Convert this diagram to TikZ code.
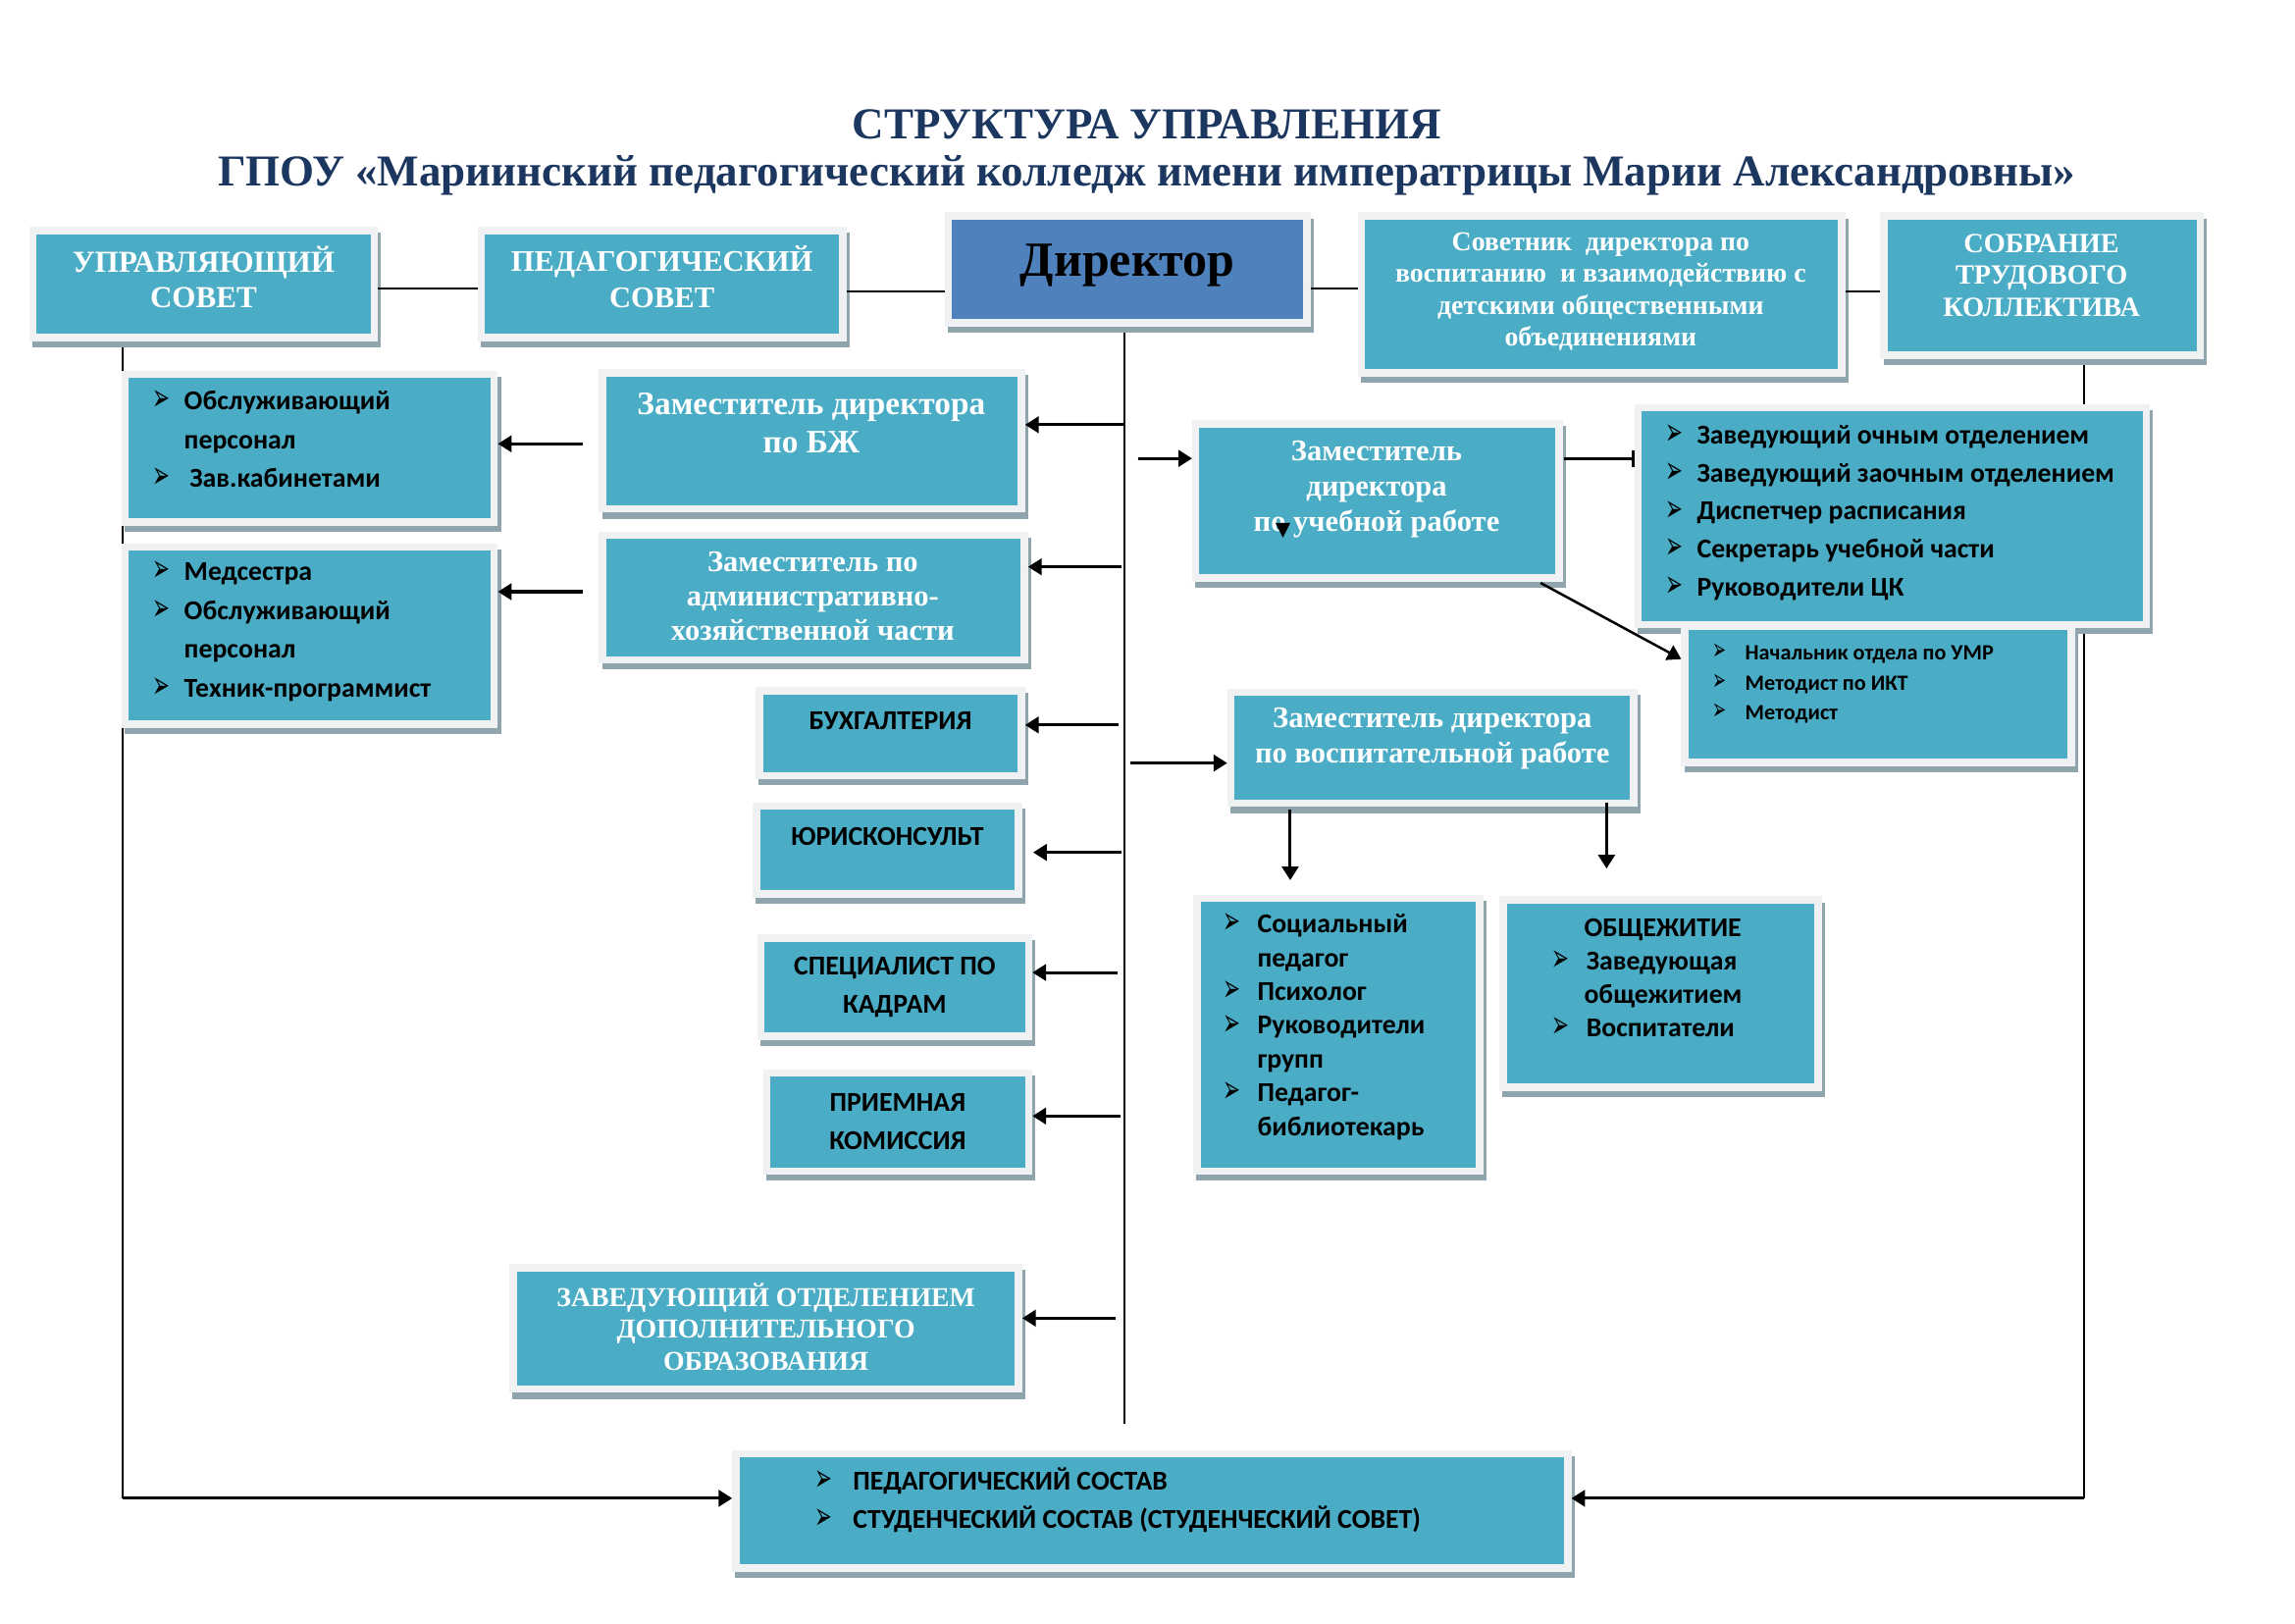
\documentclass[tikz,border=0pt]{standalone}
\usepackage{fontspec}
\usepackage{graphicx}
\setmainfont{Liberation Serif}
\newfontfamily\calfont{Carlito}
\newfontfamily\dvs{DejaVu Sans}
\usetikzlibrary{arrows.meta}
\definecolor{tealbox}{HTML}{4BACC6}
\definecolor{dirbox}{HTML}{4F81BD}
\definecolor{framec}{HTML}{EFF1F2}
\definecolor{shadowc}{HTML}{8FA4AC}
\definecolor{titlec}{HTML}{1B365F}
\newcommand\blt[1]{\makebox[#1][l]{\dvs\mdseries\fontsize{14}{14}\selectfont\raisebox{-0.4pt}{\scalebox{0.55}[1]{➢}}}}
\newcommand\bltsm[1]{\makebox[#1][l]{\dvs\mdseries\fontsize{11}{11}\selectfont\scalebox{0.55}[1]{➢}}}
\newcommand\bx[6]{%
  \node[#6, minimum width={(#4-#2+5)*0.5373pt}, minimum height={(#5-#3+5)*0.5373pt}] (#1) at ({(#2+#4)/2},{(#3+#5)/2}) {};}
\tikzset{
  boxbase/.style={draw=framec, line width=2.7pt, inner sep=0pt, rectangle,
    preaction={draw=shadowc, fill=shadowc, line width=2.7pt, transform canvas={shift={(1.1pt,-2.2pt)}}}},
  tbox/.style={boxbase, fill=tealbox},
  dbox/.style={boxbase, fill=dirbox},
  wt/.style={text=white, align=center, inner sep=0pt, font=\bfseries\fontsize{11.2}{13}\selectfont},
  ct/.style={text=black, align=left, inner sep=0pt, font=\calfont\bfseries\fontsize{10}{14.3}\selectfont},
  cc/.style={text=black, align=center, inner sep=0pt, font=\calfont\bfseries\fontsize{10}{14}\selectfont},
  ln/.style={line width=0.8pt},
  arr/.style={line width=1.1pt, -{Triangle[length=5pt,width=6pt]}},
  titlestyle/.style={text=titlec, inner sep=0pt, font=\bfseries\fontsize{16.2}{19}\selectfont}
}
\begin{document}
\begin{tikzpicture}[x=0.5373pt,y=-0.5373pt]
\useasboundingbox (0,0) rectangle (1567.1,1108.3);
\node[titlestyle] (t1) at (783,85) {СТРУКТУРА УПРАВЛЕНИЯ};
\node[titlestyle] (t2) at (783,120) {ГПОУ «Мариинский педагогический колледж имени императрицы Марии Александровны»};

% helper coordinates
\coordinate (ucl) at (84,237);
\coordinate (ucb) at (84,1023);
\coordinate (sobl) at (1423,247);
\coordinate (sobb) at (1423,1023);
\coordinate (mtop) at (768,224);
\coordinate (mbot) at (768,972);

% lines behind boxes
\draw[ln] (ucl) -- (ucb);
\draw[ln] (sobl) -- (sobb);
\draw[ln] (mtop) -- (mbot);

% boxes
\bx{uc}{25}{160}{253}{228}{tbox}
\bx{pc}{331}{160}{573}{228}{tbox}
\bx{dir}{650}{150}{890}{218}{dbox}
\bx{sov}{932}{150}{1255}{252}{tbox}
\bx{sob}{1289}{150}{1500}{240}{tbox}
\bx{obs}{88}{258}{335}{354}{tbox}
\bx{bzh}{414}{257}{695}{345}{tbox}
\bx{med}{88}{376}{335}{492}{tbox}
\bx{ahch}{414}{368}{697}{448}{tbox}
\bx{buh}{521}{474}{695}{527}{tbox}
\bx{yur}{519}{553}{693}{608}{tbox}
\bx{kad}{522}{643}{700}{705}{tbox}
\bx{prm}{526}{735}{700}{797}{tbox}
\bx{dop}{353}{868}{693}{946}{tbox}
\bx{sost}{505}{995}{1068}{1068}{tbox}
\bx{ucheb}{819}{292}{1062}{392}{tbox}
\bx{zav}{1121}{281}{1463}{424}{tbox}
\bx{umr}{1153}{430}{1412}{518}{tbox}
\bx{vosp}{843}{475}{1113}{546}{tbox}
\bx{soc}{820}{616}{1008}{797}{tbox}
\bx{obsh}{1029}{617}{1239}{740}{tbox}

% texts
\node[wt] (uc-t) at (139,189) {УПРАВЛЯЮЩИЙ\\СОВЕТ};
\node[wt, font=\bfseries\fontsize{11}{13}\selectfont] (pc-t) at (452,189) {ПЕДАГОГИЧЕСКИЙ\\СОВЕТ};
\node[text=black, inner sep=0pt, font=\bfseries\fontsize{18}{22}\selectfont] (dir-t) at (770,181) {Директор};
\node[wt, font=\bfseries\fontsize{10}{11.7}\selectfont] (sov-t) at (1093,199) {Советник\ \ директора по\\воспитанию\ \ и взаимодействию с\\детскими общественными\\объединениями};
\node[wt, font=\bfseries\fontsize{10.2}{11.6}\selectfont] (sob-t) at (1394,188) {СОБРАНИЕ\\ТРУДОВОГО\\КОЛЛЕКТИВА};
\node[ct, anchor=west] (obs-t) at (104,300) {\blt{11.5pt}Обслуживающий\\\hspace*{11.5pt}персонал\\\blt{13.5pt}Зав.кабинетами};
\node[wt, font=\bfseries\fontsize{12}{14}\selectfont] (bzh-t) at (554,289) {Заместитель директора\\по БЖ};
\node[ct, anchor=west] (med-t) at (104,431) {\blt{11.5pt}Медсестра\\\blt{11.5pt}Обслуживающий\\\hspace*{11.5pt}персонал\\\blt{11.5pt}Техник-программист};
\node[wt, font=\bfseries\fontsize{11}{12.7}\selectfont] (ahch-t) at (555,407) {Заместитель по\\административно-\\хозяйственной части};
\node[cc] (buh-t) at (608,492) {БУХГАЛТЕРИЯ};
\node[cc] (yur-t) at (606,571) {ЮРИСКОНСУЛЬТ};
\node[cc] (kad-t) at (611,674) {СПЕЦИАЛИСТ ПО\\КАДРАМ};
\node[cc] (prm-t) at (613,766) {ПРИЕМНАЯ\\КОМИССИЯ};
\node[wt, font=\bfseries\fontsize{10}{11.6}\selectfont] (dop-t) at (523,906) {ЗАВЕДУЮЩИЙ ОТДЕЛЕНИЕМ\\ДОПОЛНИТЕЛЬНОГО\\ОБРАЗОВАНИЯ};
\node[ct, font=\calfont\bfseries\fontsize{10}{14}\selectfont, anchor=west] (sost-t) at (556,1024) {\blt{14pt}ПЕДАГОГИЧЕСКИЙ СОСТАВ\\\blt{14pt}СТУДЕНЧЕСКИЙ СОСТАВ (СТУДЕНЧЕСКИЙ СОВЕТ)};
\node[wt, font=\bfseries\fontsize{11}{13}\selectfont] (ucheb-t) at (940,334) {Заместитель\\директора\\по учебной работе};
\node[ct, font=\calfont\bfseries\fontsize{10}{14}\selectfont, anchor=west] (zav-t) at (1137,350) {\blt{11.5pt}Заведующий очным отделением\\\blt{11.5pt}Заведующий заочным отделением\\\blt{11.5pt}Диспетчер расписания\\\blt{11.5pt}Секретарь учебной части\\\blt{11.5pt}Руководители ЦК};
\node[ct, font=\calfont\bfseries\fontsize{8}{11}\selectfont, anchor=west] (umr-t) at (1169,467) {\bltsm{12pt}Начальник отдела по УМР\\\bltsm{12pt}Методист по ИКТ\\\bltsm{12pt}Методист};
\node[wt, font=\bfseries\fontsize{11}{13}\selectfont] (vosp-t) at (978,504) {Заместитель директора\\по воспитательной работе};
\node[ct, font=\calfont\bfseries\fontsize{10}{12.4}\selectfont, anchor=west] (soc-t) at (835,701) {\blt{12.5pt}Социальный\\\hspace*{12.5pt}педагог\\\blt{12.5pt}Психолог\\\blt{12.5pt}Руководители\\\hspace*{12.5pt}групп\\\blt{12.5pt}Педагог-\\\hspace*{12.5pt}библиотекарь};
\node[ct, font=\calfont\bfseries\fontsize{10}{12.3}\selectfont, anchor=west] (obsh-t) at (1059,668) {\hspace*{12pt}ОБЩЕЖИТИЕ\\\blt{12.8pt}Заведующая\\\hspace*{12pt}общежитием\\\blt{12.8pt}Воспитатели};

% small triangle mark inside the box
\fill[black] (871,357) -- (881,357) -- (876,367) -- cycle;

% top connectors
\coordinate (y197) at (0,197);
\coordinate (y199) at (0,199);
\draw[ln] (uc.east |- y197) -- (pc.west |- y197);
\draw[ln] (pc.east |- y199) -- (dir.west |- y199);
\draw[ln] (dir.east |- y197) -- (sov.west |- y197);
\draw[ln] (sov.east |- y199) -- (sob.west |- y199);

% arrows from the central line
\coordinate (a1) at (768,290);
\coordinate (a2) at (766,387);
\coordinate (a3) at (764,495);
\coordinate (a4) at (766,582);
\coordinate (a5) at (763,664);
\coordinate (a6) at (765,762);
\coordinate (a7) at (762,900);
\coordinate (b1) at (777,313);
\coordinate (b2) at (772,521);
\draw[arr] (a1) -- (a1 -| bzh.east);
\draw[arr] (a2) -- (a2 -| ahch.east);
\draw[arr] (a3) -- (a3 -| buh.east);
\draw[arr] (a4) -- ([xshift=4pt]a4 -| yur.east);
\draw[arr] (a5) -- (a5 -| kad.east);
\draw[arr] (a6) -- (a6 -| prm.east);
\draw[arr] (a7) -- (a7 -| dop.east);
\draw[arr] (b1) -- (b1 -| ucheb.west);
\draw[arr] (b2) -- (b2 -| vosp.west);

% arrows between boxes
\coordinate (c1) at (398,303);
\coordinate (c2) at (398,404);
\draw[arr] (c1) -- (c1 -| obs.east);
\draw[arr] (c2) -- (c2 -| med.east);
\coordinate (d1) at (1068,313);
\draw[line width=1.1pt, -{Bar[width=6pt]}] (d1) -- (d1 -| zav.west);
\coordinate (d2) at (1052,398);
\coordinate (d3) at (1148,450);
\draw[arr, line width=0.9pt] (d2) -- (d3);
\coordinate (e1) at (881,553);
\coordinate (e2) at (881,601);
\coordinate (e3) at (1097,548);
\coordinate (e4) at (1097,593);
\draw[arr] (e1) -- (e2);
\draw[arr] (e3) -- (e4);

% bottom connectors
\draw[arr] (ucb) -- (ucb -| sost.west);
\draw[arr] (sobb) -- (sobb -| sost.east);
\end{tikzpicture}
\end{document}
